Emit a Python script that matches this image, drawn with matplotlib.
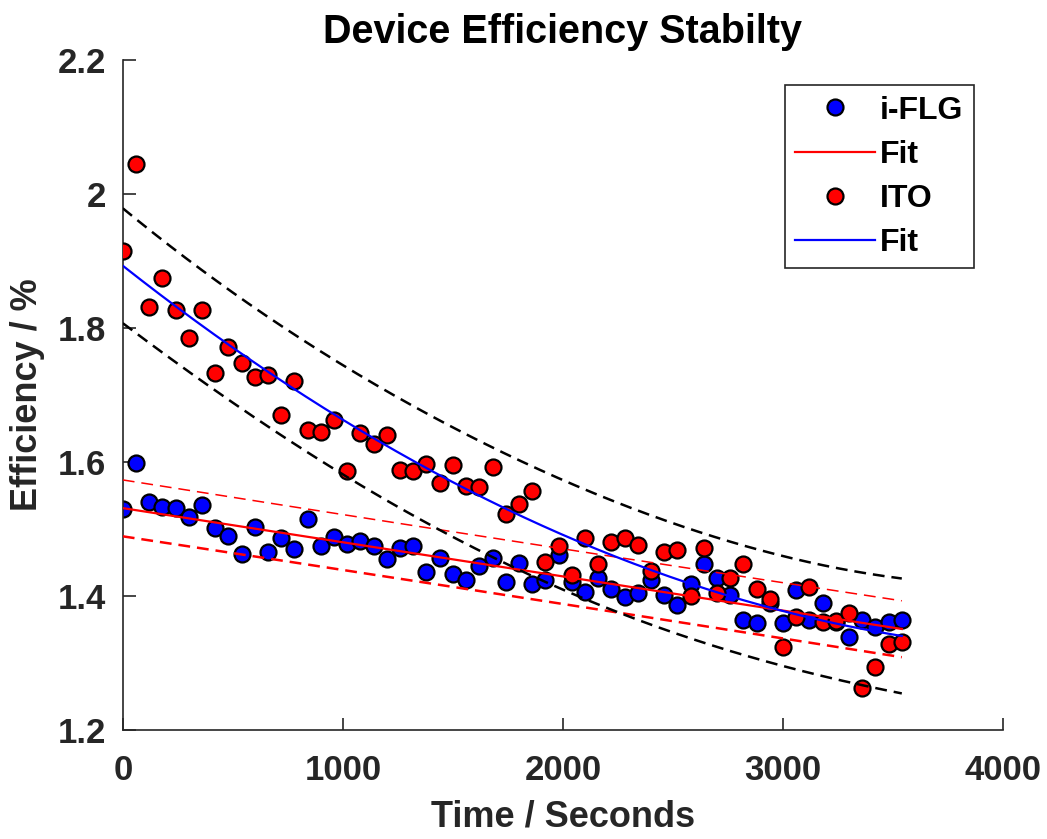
import numpy as np
import matplotlib
matplotlib.use("Agg")
import matplotlib.pyplot as plt
from matplotlib.ticker import FormatStrFormatter

# Measurement times (s), one reading every minute
time_s = np.arange(0, 3600, 60)

# i-FLG electrode efficiency (%)
eff_iflg = [
    1.530, 1.598, 1.540, 1.533, 1.531, 1.518, 1.535, 1.501, 1.490, 1.462,
    1.503, 1.466, 1.487, 1.470, 1.514, 1.474, 1.488, 1.477, 1.482, 1.474,
    1.455, 1.471, 1.474, 1.436, 1.457, 1.433, 1.424, 1.444, 1.456, 1.421,
    1.449, 1.417, 1.424, 1.461, 1.421, 1.406, 1.426, 1.410, 1.399, 1.404,
    1.424, 1.401, 1.387, 1.418, 1.448, 1.426, 1.401, 1.364, 1.360, 1.390,
    1.360, 1.409, 1.364, 1.389, 1.361, 1.339, 1.364, 1.354, 1.361, 1.364,
]

# ITO electrode efficiency (%)
eff_ito = [
    1.914, 2.045, 1.831, 1.874, 1.827, 1.785, 1.826, 1.733, 1.772, 1.748,
    1.727, 1.730, 1.670, 1.720, 1.647, 1.645, 1.663, 1.587, 1.643, 1.626,
    1.640, 1.588, 1.586, 1.597, 1.569, 1.595, 1.564, 1.563, 1.593, 1.522,
    1.537, 1.557, 1.451, 1.474, 1.431, 1.486, 1.447, 1.481, 1.487, 1.476,
    1.437, 1.466, 1.469, 1.400, 1.471, 1.404, 1.427, 1.448, 1.410, 1.395,
    1.324, 1.369, 1.413, 1.361, 1.363, 1.374, 1.262, 1.294, 1.328, 1.331,
]

x_ticks = [0, 1000, 2000, 3000, 4000]
y_ticks = [1.2, 1.4, 1.6, 1.8, 2.0, 2.2]


def poly_fit_bounds(t, y, deg, t_crit=2.002, npts=300):
    """Least-squares polynomial fit with 95% prediction bounds for new observations."""
    t = np.asarray(t, float) / 1000.0
    y = np.asarray(y, float)
    X = np.vander(t, deg + 1)
    coef, *_ = np.linalg.lstsq(X, y, rcond=None)
    resid = y - X @ coef
    dof = len(y) - (deg + 1)
    s2 = resid @ resid / dof
    cov = np.linalg.inv(X.T @ X)
    tg = np.linspace(t.min(), t.max(), npts)
    Xg = np.vander(tg, deg + 1)
    fit = Xg @ coef
    se = np.sqrt(s2 * (1.0 + np.sum((Xg @ cov) * Xg, axis=1)))
    return tg * 1000.0, fit, fit - t_crit * se, fit + t_crit * se


plt.rcParams["font.family"] = ["Liberation Sans", "DejaVu Sans"]
plt.rcParams["font.weight"] = "bold"
plt.rcParams["lines.scale_dashes"] = False

fig = plt.figure(figsize=(10.47, 8.39), dpi=100)
ax = fig.add_axes([0.1173, 0.130, 0.8407, 0.7989])

dark = "#262626"
msize = 11.5

# i-FLG: linear fit
tg1, f1, lo1, hi1 = poly_fit_bounds(time_s, eff_iflg, 1)
# ITO: quadratic fit
tg2, f2, lo2, hi2 = poly_fit_bounds(time_s, eff_ito, 2)

h_iflg, = ax.plot(time_s, eff_iflg, "o", color="blue", markeredgecolor="black",
                  markeredgewidth=1.6, markersize=msize, zorder=2, label="i-FLG")
h_ito, = ax.plot(time_s, eff_ito, "o", color="red", markeredgecolor="black",
                 markeredgewidth=1.6, markersize=msize, zorder=3, label="ITO")

h_fit1, = ax.plot(tg1, f1, "-", color="red", lw=1.6, zorder=4, label="Fit")
ax.plot(tg1, hi1, color="red", lw=1.1, dashes=(8.5, 5), zorder=4)
ax.plot(tg1, lo1, color="red", lw=1.8, dashes=(8.5, 5), zorder=4)

h_fit2, = ax.plot(tg2, f2, "-", color="blue", lw=1.6, zorder=5, label="Fit")
ax.plot(tg2, hi2, color="black", lw=1.8, dashes=(8.5, 5), zorder=5)
ax.plot(tg2, lo2, color="black", lw=1.8, dashes=(8.5, 5), zorder=5)

ax.set_xlim(x_ticks[0], x_ticks[-1])
ax.set_ylim(y_ticks[0], y_ticks[-1])
ax.set_xticks(x_ticks)
ax.set_yticks(y_ticks)
ax.yaxis.set_major_formatter(FormatStrFormatter("%g"))

for side in ("top", "right"):
    ax.spines[side].set_visible(False)
for side in ("left", "bottom"):
    ax.spines[side].set_color(dark)
    ax.spines[side].set_linewidth(1.2)

ax.tick_params(direction="in", length=9, width=1.2, color=dark,
               labelcolor=dark, labelsize=25)
ax.tick_params(axis="x", pad=17)
ax.tick_params(axis="y", pad=12)
for lbl in ax.get_xticklabels() + ax.get_yticklabels():
    lbl.set_fontweight("bold")

ax.set_xlabel("Time / Seconds", fontsize=26, fontweight="bold", color=dark,
              labelpad=9)
ax.set_ylabel("Efficiency / %", fontsize=26, fontweight="bold", color=dark,
              labelpad=9)
ax.set_title("Device Efficiency Stabilty", fontsize=28.5, fontweight="bold",
             color="black", pad=12)

leg = ax.legend(handles=[h_iflg, h_fit1, h_ito, h_fit2],
                labels=["i-FLG", "Fit", "ITO", "Fit"],
                loc="upper right", bbox_to_anchor=(0.967, 0.962),
                borderaxespad=0.0,
                prop={"weight": "bold", "size": 23},
                frameon=True, fancybox=False, edgecolor=dark, framealpha=1,
                handlelength=2.5, handletextpad=0.16, labelspacing=0.44,
                borderpad=0.33, markerscale=1.0)
leg.get_frame().set_linewidth(1.2)

fig.savefig("out.png", dpi=100)
